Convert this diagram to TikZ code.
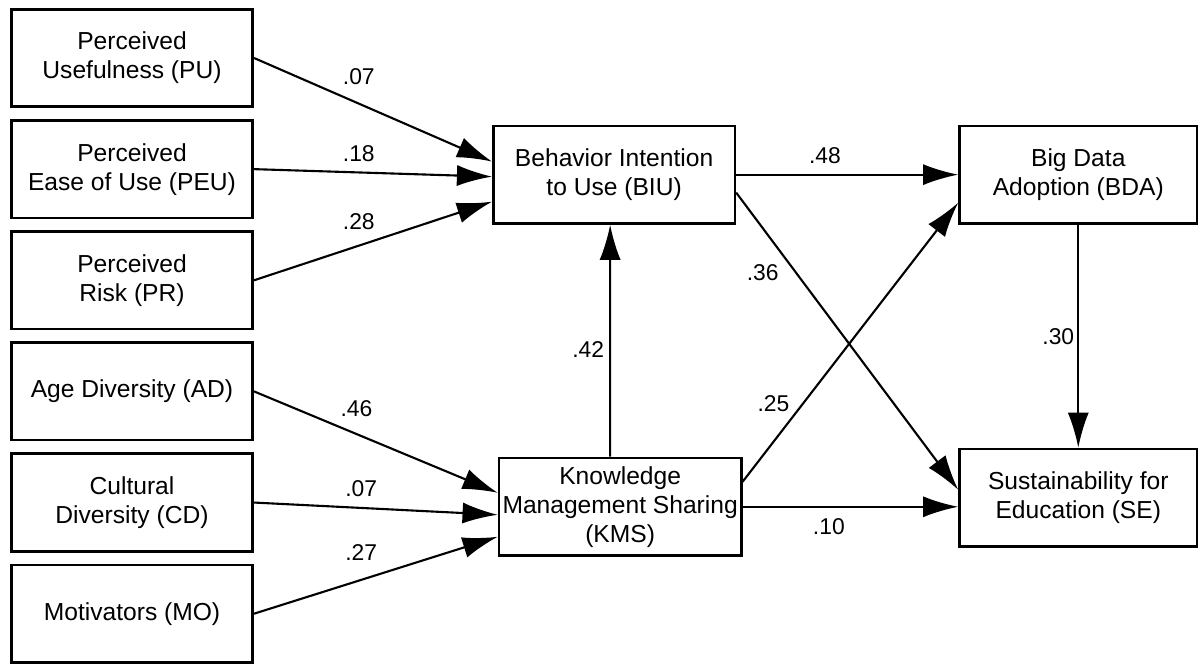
\documentclass[tikz,border=0pt]{standalone}
\usepackage{fontspec}
\setmainfont{Liberation Sans}
\usepackage{tikz}
\usetikzlibrary{arrows.meta,positioning,calc}

\begin{document}
\begin{tikzpicture}[
  construct/.style={rectangle,draw,line width=1.5pt,minimum width=4.83cm,
               minimum height=1.95cm,align=center,inner sep=2pt,
               font=\fontsize{14}{16.5}\selectfont},
  arr/.style={-{Latex[length=20pt,width=12pt]},line width=1.2pt},
  coef/.style={font=\fontsize{13}{15}\selectfont,inner sep=0pt}
]
  \useasboundingbox (0,0) rectangle (24,-13.3);

  % Left column
  \node[construct] (pu) at (2.64,-1.16) {Perceived\\Usefulness (PU)};
  \node[construct,below=0.22cm of pu] (peu) {Perceived\\Ease of Use (PEU)};
  \node[construct,below=0.22cm of peu] (pr) {Perceived\\Risk (PR)};
  \node[construct,below=0.22cm of pr] (ad) {Age Diversity (AD)};
  \node[construct,below=0.22cm of ad] (cd) {Cultural\\Diversity (CD)};
  \node[construct,below=0.22cm of cd] (mo) {Motivators (MO)};

  % Middle
  \node[construct,right=4.76cm of peu,yshift=-0.11cm]
    (biu) {Behavior Intention\\to Use (BIU)};
  \node[construct,below=4.64cm of biu,xshift=0.12cm]
    (kms) {Knowledge\\Management Sharing\\(KMS)};

  % Right
  \node[construct,minimum width=4.75cm,right=4.44cm of biu]
    (bda) {Big Data\\Adoption (BDA)};
  \node[construct,minimum width=4.75cm,below=4.46cm of bda]
    (se) {Sustainability for\\Education (SE)};

  % Paths to BIU
  \draw[arr] (pu.east) -- ($(biu.west)+(0,0.26)$)
    node[coef,pos=0.44,yshift=0.54cm] {.07};
  \draw[arr] (peu.east) -- ($(biu.west)+(0,-0.04)$)
    node[coef,pos=0.44,yshift=0.38cm] {.18};
  \draw[arr] (pr.east) -- ($(biu.west)+(0,-0.54)$)
    node[coef,pos=0.44,yshift=0.48cm] {.28};

  % Paths to KMS
  \draw[arr] (ad.east) -- ($(kms.west)+(0,0.28)$)
    node[coef,pos=0.42,yshift=0.50cm] {.46};
  \draw[arr] (cd.east) -- ($(kms.west)+(0,-0.16)$)
    node[coef,pos=0.44,yshift=0.38cm] {.07};
  \draw[arr] (mo.east) -- ($(kms.west)+(0,-0.60)$)
    node[coef,pos=0.44,yshift=0.54cm] {.27};

  % KMS to BIU
  \draw[arr] ($(kms.north)+(-0.2,0)$) -- ($(biu.south)+(-0.08,0)$)
    node[coef,pos=0.46,xshift=-0.44cm] {.42};

  % Paths to BDA and SE
  \draw[arr] (biu.east) -- (bda.west)
    node[coef,pos=0.40,yshift=0.38cm] {.48};
  \draw[arr] ($(biu.east)+(0,-0.36)$) -- ($(se.west)+(0,0.16)$)
    node[coef,pos=0.27,xshift=-0.67cm] {.36};
  \draw[arr] ($(kms.east)+(0,0.50)$) -- ($(bda.west)+(0,-0.56)$)
    node[coef,pos=0.28,xshift=-0.59cm] {.25};
  \draw[arr] (kms.east) -- (kms.east -| se.west)
    node[coef,pos=0.40,yshift=-0.40cm] {.10};
  \draw[arr] (bda.south) -- (se.north)
    node[coef,pos=0.50,xshift=-0.40cm] {.30};

\end{tikzpicture}
\end{document}
